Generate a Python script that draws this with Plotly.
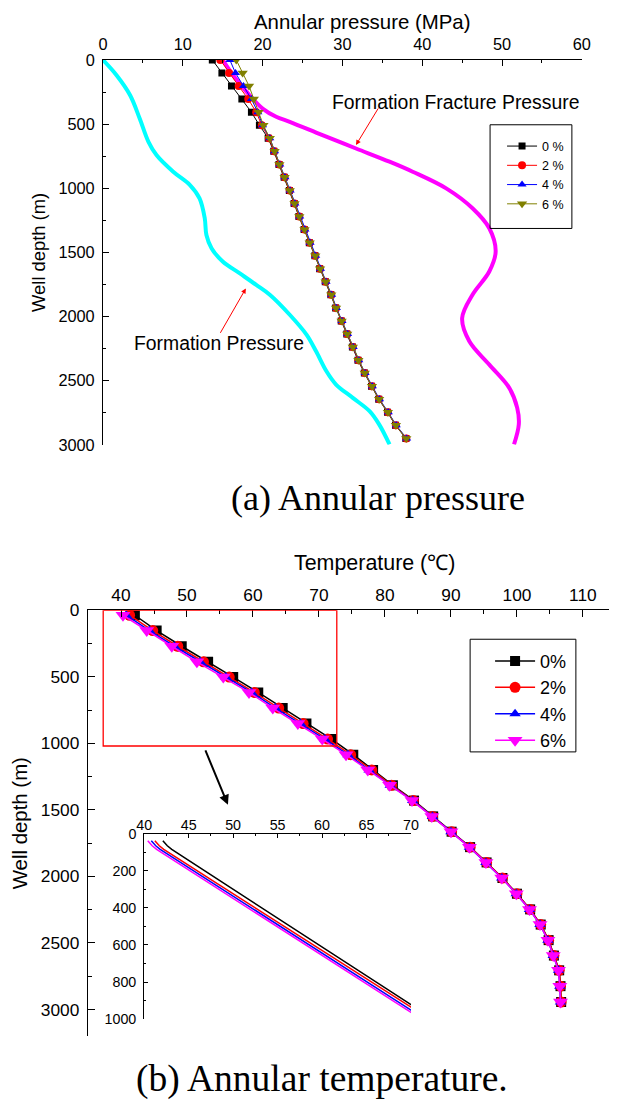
import plotly.graph_objects as go

W, H = 618, 1101
FONT = "Liberation Sans, Arial, sans-serif"
SERIF = "Liberation Serif, Times New Roman, serif"

# ---------------- Panel (a): annular pressure ----------------
depth_p = [0, 102, 203, 305, 407, 509, 610, 712, 814, 915, 1017, 1119, 1221, 1322, 1424,
           1526, 1628, 1729, 1831, 1933, 2034, 2136, 2238, 2340, 2441, 2543, 2645, 2747, 2848, 2950]
press_0 = [13.7, 14.9, 16.1, 17.4, 18.6, 19.6, 20.7, 21.4, 22.05, 22.7, 23.35, 23.95, 24.55, 25.2, 25.85,
           26.55, 27.15, 27.85, 28.55, 29.15, 29.85, 30.55, 31.25, 31.95, 32.75, 33.65, 34.55, 35.65, 36.65, 37.95]
press_2 = [14.7, 15.8, 17.0, 18.2, 19.2, 19.9, 20.8, 21.45, 22.1, 22.75, 23.4, 24.0, 24.6, 25.25, 25.9,
           26.6, 27.2, 27.9, 28.6, 29.2, 29.9, 30.6, 31.3, 32.0, 32.8, 33.7, 34.6, 35.7, 36.7, 38.0]
press_4 = [15.9, 16.6, 17.6, 18.6, 19.4, 20.0, 20.9, 21.5, 22.15, 22.8, 23.45, 24.05, 24.65, 25.3, 25.95,
           26.65, 27.25, 27.95, 28.65, 29.25, 29.95, 30.65, 31.35, 32.05, 32.85, 33.75, 34.65, 35.75, 36.75, 38.05]
press_6 = [16.7, 17.5, 18.3, 18.9, 19.5, 20.1, 20.9, 21.5, 22.1, 22.75, 23.4, 24.0, 24.6, 25.25, 25.9,
           26.6, 27.2, 27.9, 28.6, 29.2, 29.9, 30.6, 31.3, 32.0, 32.8, 33.7, 34.6, 35.7, 36.7, 38.0]

form_depth = [0, 119, 275, 456, 638, 741, 871, 975, 1079, 1234, 1364, 1467, 1571, 1662, 1753,
              1830, 1986, 2141, 2271, 2427, 2530, 2634, 2738, 2841, 2997]
form_press = [0.0, 1.7, 3.4, 4.6, 5.7, 6.7, 8.8, 10.9, 12.1, 12.75, 12.96, 13.6, 15.0, 17.1, 19.2,
              20.9, 23.4, 25.5, 26.7, 28.0, 29.2, 31.3, 33.4, 34.6, 35.9]

frac_depth = [0, 119, 249, 379, 443, 482, 586, 690, 793, 871, 1001, 1156, 1312, 1493, 1649,
              1830, 2012, 2193, 2375, 2556, 2712, 2841, 2997]
frac_press = [15.0, 16.3, 18.0, 20.0, 21.7, 23.4, 27.5, 31.7, 35.9, 38.8, 43.0, 46.3, 48.4, 49.2, 48.4,
              46.3, 45.0, 45.9, 48.4, 50.9, 51.9, 52.1, 51.5]

# ---------------- Panel (b): annular temperature ----------------
depth_t = [37, 152, 270, 387, 502, 617, 735, 851, 968, 1085, 1200, 1315, 1430, 1549, 1664,
           1780, 1895, 2012, 2130, 2248, 2362, 2479, 2595, 2706, 2825, 2944]
temp_0 = [42.1, 45.4, 49.2, 53.2, 57.0, 60.8, 64.5, 68.1, 71.9, 75.2, 78.2, 81.2, 84.4, 87.3, 90.1,
          92.9, 95.4, 97.8, 100.0, 102.0, 103.6, 104.8, 105.6, 106.4, 106.6, 106.7]
temp_2 = [41.3, 44.8, 48.6, 52.5, 56.4, 60.2, 63.9, 67.6, 71.3, 74.8, 78.0, 81.0, 84.3, 87.2, 90.1,
          92.9, 95.4, 97.8, 100.0, 102.0, 103.6, 104.8, 105.6, 106.4, 106.6, 106.7]
temp_4 = [40.8, 44.3, 48.1, 52.0, 55.9, 59.8, 63.4, 67.2, 70.9, 74.4, 77.6, 80.8, 84.2, 87.2, 90.0,
          92.8, 95.3, 97.7, 99.9, 101.9, 103.5, 104.7, 105.5, 106.3, 106.5, 106.6]
temp_6 = [40.3, 43.9, 47.7, 51.5, 55.5, 59.4, 63.0, 66.8, 70.5, 74.1, 77.4, 80.7, 84.1, 87.1, 90.0,
          92.8, 95.3, 97.7, 99.9, 101.9, 103.5, 104.7, 105.5, 106.3, 106.5, 106.6]

# inset (zoom of 0-1000 m)
inset_depth = [38, 50, 65, 85, 1000]
inset_t0 = [42.1, 42.3, 42.6, 43.1, 72.5]
inset_t2 = [41.2, 41.4, 41.7, 42.2, 72.1]
inset_t4 = [40.8, 41.0, 41.3, 41.8, 71.6]
inset_t6 = [40.4, 40.6, 40.9, 41.4, 71.2]

labels_a = ["0 %", "2 %", "4 %", "6 %"]
labels_b = ["0%", "2%", "4%", "6%"]

# The captured page carries an 8 px margin and is scaled to the window; positions below are
# given in target-picture pixels and converted to paper fractions.
OFF = 8
SX = W / (W + 2 * OFF)
SY = H / (H + 2 * OFF)
FS = 1.02  # font compensation for the scaling


def RXp(r):
    return r / SX - OFF


def RYp(r):
    return r / SY - OFF


def RX(r):
    return RXp(r) / W


def RY(r):
    return 1 - RYp(r) / H


# bottom panel x axis: 35 at px 88, 10 units every (584-121)/7 px; axis runs to the paper edge
b_px_per_unit = (584 - 121) / 70
b_xmax = 35 + (SX * (W + OFF) - 88) / b_px_per_unit

fig = go.Figure()

# formation curves (panel a)
fig.add_trace(go.Scatter(x=form_press, y=form_depth, mode="lines", line=dict(color="#00FFFF", width=4, shape="spline"),
                         showlegend=False, xaxis="x", yaxis="y", hoverinfo="skip"))
fig.add_trace(go.Scatter(x=frac_press, y=frac_depth, mode="lines", line=dict(color="#FF00FF", width=4, shape="spline"),
                         showlegend=False, xaxis="x", yaxis="y", hoverinfo="skip"))

styles_a = [("#000000", "square", 7), ("#FF0000", "circle", 8), ("#0000FF", "triangle-up", 8), ("#808000", "triangle-down", 9)]
for vals, lab, (col, sym, sz) in zip([press_0, press_2, press_4, press_6], labels_a, styles_a):
    fig.add_trace(go.Scatter(x=vals, y=depth_p, mode="lines+markers", name=lab,
                             line=dict(color=col, width=1), marker=dict(symbol=sym, size=sz, color=col),
                             xaxis="x", yaxis="y", legend="legend"))

styles_b = [("#000000", "square", 10), ("#FF0000", "circle", 11), ("#0000FF", "triangle-up", 10), ("#FF00FF", "triangle-down", 13)]
for vals, lab, (col, sym, sz) in zip([temp_0, temp_2, temp_4, temp_6], labels_b, styles_b):
    fig.add_trace(go.Scatter(x=vals, y=depth_t, mode="lines+markers", name=lab,
                             line=dict(color=col, width=1.5), marker=dict(symbol=sym, size=sz, color=col),
                             xaxis="x2", yaxis="y2", legend="legend2"))

for vals, (col, _, _) in zip([inset_t0, inset_t2, inset_t4, inset_t6], styles_b):
    fig.add_trace(go.Scatter(x=vals, y=inset_depth, mode="lines", line=dict(color=col, width=1.5),
                             showlegend=False, xaxis="x3", yaxis="y3", hoverinfo="skip"))

axis_common = dict(showline=True, linecolor="black", showgrid=False, zeroline=False,
                   ticks="inside", tickcolor="black", mirror=False)

fig.update_layout(
    width=W, height=H, autosize=False,
    margin=dict(l=0, r=0, t=0, b=0),
    paper_bgcolor="white", plot_bgcolor="rgba(0,0,0,0)",
    font=dict(family=FONT, color="black"),
    xaxis=dict(**axis_common, domain=[RX(103), RX(583)], range=[0, 60], side="top", anchor="y",
               dtick=10, tick0=0, ticklen=6, tickwidth=1, linewidth=1,
               minor=dict(ticks="inside", ticklen=3, dtick=5, tick0=0, tickcolor="black"),
               tickfont=dict(size=16 * FS), ticklabelstandoff=2),
    yaxis=dict(**axis_common, domain=[RY(444), RY(58)], range=[3000, 0], anchor="x",
               dtick=500, tick0=0, ticklen=6, tickwidth=1, linewidth=1,
               minor=dict(ticks="inside", ticklen=3, dtick=250, tick0=0, tickcolor="black"),
               tickfont=dict(size=16 * FS), ticklabelstandoff=4,
               title=dict(text="Well depth (m)", font=dict(size=18 * FS), standoff=7)),
    xaxis2=dict(**axis_common, domain=[RX(88), 1.0], range=[35, b_xmax], side="top", anchor="y2",
                dtick=10, tick0=0, ticklen=7, tickwidth=1.3, linewidth=1.3,
                minor=dict(ticks="inside", ticklen=4, dtick=5, tick0=0, tickcolor="black"),
                tickfont=dict(size=17 * FS), ticklabelstandoff=1),
    yaxis2=dict(**axis_common, domain=[RY(1037), RY(610)], range=[3200, 0], anchor="x2",
                dtick=500, tick0=0, ticklen=7, tickwidth=1.3, linewidth=1.3,
                minor=dict(ticks="inside", ticklen=4, dtick=250, tick0=0, tickcolor="black"),
                tickfont=dict(size=17 * FS), ticklabelstandoff=4,
                title=dict(text="Well depth (m)", font=dict(size=20 * FS), standoff=7)),
    xaxis3=dict(**axis_common, domain=[RX(144.3), RX(411.7)], range=[40, 70], side="top", anchor="y3",
                dtick=5, tick0=0, ticklen=4, tickwidth=1, linewidth=1,
                minor=dict(ticks="inside", ticklen=2, dtick=2.5, tick0=0, tickcolor="black"),
                tickfont=dict(size=14 * FS), ticklabelstandoff=-3),
    yaxis3=dict(**axis_common, domain=[RY(1020), RY(834)], range=[1000, 0], anchor="x3",
                dtick=200, tick0=0, ticklen=4, tickwidth=1, linewidth=1,
                minor=dict(ticks="inside", ticklen=2, dtick=100, tick0=0, tickcolor="black"),
                tickfont=dict(size=14 * FS), ticklabelstandoff=4),
    legend=dict(x=RX(503), y=RY(129.7), xanchor="left", yanchor="top", bgcolor="rgba(0,0,0,0)",
                font=dict(size=12.5), borderwidth=0, tracegroupgap=0),
    legend2=dict(x=RX(491), y=RY(642.5), xanchor="left", yanchor="top", bgcolor="rgba(0,0,0,0)",
                 font=dict(size=18), borderwidth=0, tracegroupgap=0, itemwidth=40),
)

# legend frames and red zoom box
fig.add_shape(type="rect", xref="paper", yref="paper", x0=RX(491), x1=RX(573), y0=RY(227), y1=RY(123),
              line=dict(color="black", width=1))
fig.add_shape(type="rect", xref="paper", yref="paper", x0=RX(471), x1=RX(577), y0=RY(752), y1=RY(639),
              line=dict(color="black", width=1))
fig.add_shape(type="rect", xref="x2", yref="y2", x0=37.3, x1=72.7, y0=0, y1=1020,
              line=dict(color="#FF0000", width=1.3))

# axis titles on the top axes
fig.add_annotation(xref="paper", yref="paper", x=RX(363), y=RY(20), text="Annular pressure (MPa)",
                   showarrow=False, font=dict(size=20 * FS), xanchor="center", yanchor="middle")
fig.add_annotation(xref="paper", yref="paper", x=RX(375), y=RY(563), text="Temperature (\u2103)",
                   showarrow=False, font=dict(size=21 * FS), xanchor="center", yanchor="middle")

# annotations
fig.add_annotation(xref="paper", yref="paper", x=RX(456), y=RY(100), text="Formation Fracture Pressure",
                   showarrow=False, font=dict(size=19 * FS), xanchor="center", yanchor="middle")
fig.add_annotation(xref="x", yref="y", x=31.7, y=663, ax=34.6, ay=366, axref="x", ayref="y", text="",
                   showarrow=True, arrowhead=2, arrowsize=1, arrowwidth=1, arrowcolor="#FF0000")
fig.add_annotation(xref="paper", yref="paper", x=RX(219), y=RY(342), text="Formation Pressure",
                   showarrow=False, font=dict(size=19 * FS), xanchor="center", yanchor="middle")
fig.add_annotation(xref="x", yref="y", x=17.9, y=1781, ax=14.6, ay=2139, axref="x", ayref="y", text="",
                   showarrow=True, arrowhead=2, arrowsize=1, arrowwidth=1, arrowcolor="#FF0000")
fig.add_annotation(xref="x2", yref="y2", x=56.2, y=1462, ax=52.7, ay=1042, axref="x2", ayref="y2", text="",
                   showarrow=True, arrowhead=2, arrowsize=1, arrowwidth=2, arrowcolor="black")

fig.add_annotation(xref="paper", yref="paper", x=RX(379), y=RY(497), text="(a) Annular pressure",
                   showarrow=False, font=dict(size=36, family=SERIF), xanchor="center", yanchor="middle")
fig.add_annotation(xref="paper", yref="paper", x=RX(323), y=RY(1080), text="(b) Annular temperature.",
                   showarrow=False, font=dict(size=37.5, family=SERIF), xanchor="center", yanchor="middle")

fig.write_html("out.html")
